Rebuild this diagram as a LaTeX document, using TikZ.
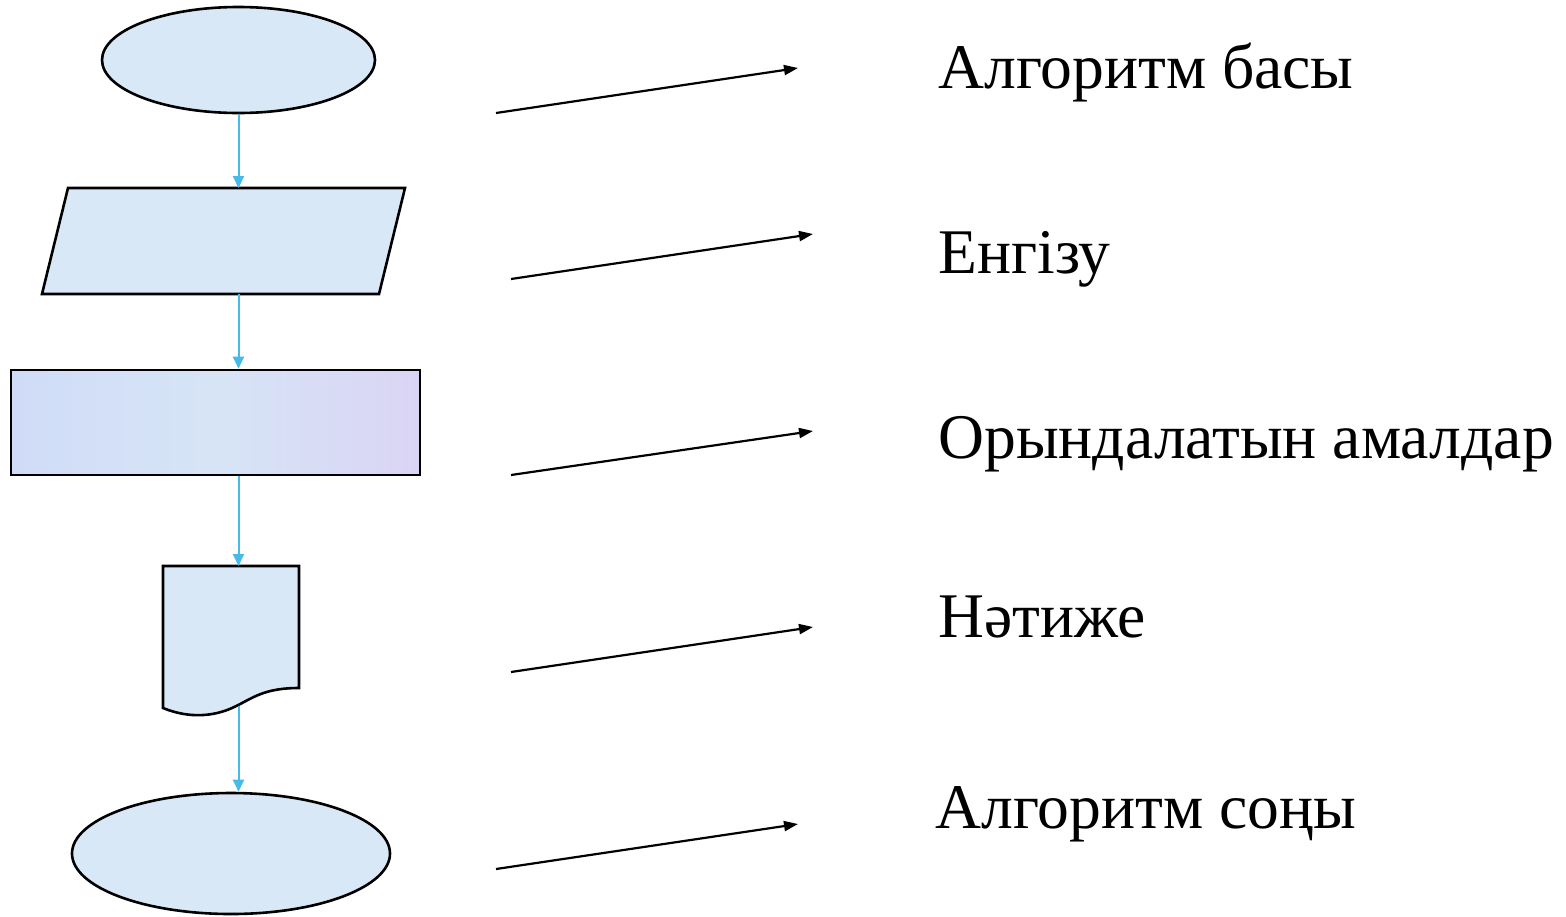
\documentclass[tikz,border=0pt]{standalone}
\usepackage{fontspec}
\setmainfont{Liberation Serif}
\usetikzlibrary{shapes.geometric,arrows.meta,calc}
\definecolor{paleblue}{RGB}{217,232,246}
\definecolor{lavblue}{RGB}{208,220,247}
\definecolor{lavpink}{RGB}{218,212,244}
\definecolor{flowblue}{RGB}{72,186,232}
\tikzset{
  shapeline/.style={draw=black,line width=1.3pt,fill=paleblue},
  termbox/.style={shapeline,ellipse,inner sep=0pt},
  anchorbox/.style={inner sep=0pt,outer sep=0pt,draw=none},
  flow/.style={draw=flowblue,line width=1pt,-{Triangle[length=6pt,width=5.5pt]}},
  pointer/.style={draw=black,line width=1.1pt,-{Triangle[length=7pt,width=5pt]}},
  label/.style={inner sep=0pt,anchor=base west,font=\fontsize{31.8}{35}\selectfont}
}
\begin{document}
\begin{tikzpicture}[x=0.5pt,y=-0.5pt]
\useasboundingbox (0,0) rectangle (1566,916);
% start ellipse
\node[termbox,minimum width=136.5pt,minimum height=53pt] (start) at (238.5,60) {};
% parallelogram (input)
\draw[shapeline] (68,188) -- (405,188) -- (379,294) -- (42,294) -- cycle;
\node[anchorbox,minimum width=168.5pt,minimum height=53pt] (input) at (223.5,241) {};
% process rectangle
\node[shapeline,left color=lavblue,right color=lavpink,middle color=paleblue!70!lavblue,inner sep=0pt,minimum width=204.5pt,minimum height=52.5pt] (proc) at (215.5,422.5) {};
% document shape
\draw[shapeline] (163,566) -- (299,566) -- (299,688)
  .. controls (262,688) and (252,699) .. (232,708)
  .. controls (214,716) and (190,719) .. (163,708) -- cycle;
\node[anchorbox,minimum width=68pt,minimum height=71pt] (doc) at (231,637) {};
\coordinate (docbot) at (238.5,706);
% end ellipse
\node[termbox,minimum width=159pt,minimum height=60.5pt] (stop) at (231,853.5) {};

% flow connectors
\draw[flow] (start.south) -- (start.south |- input.north);
\draw[flow] (start.south |- input.south) -- (start.south |- proc.north);
\draw[flow] (start.south |- proc.south) -- (start.south |- doc.north);
\draw[flow] (docbot) -- (docbot |- stop.north);

% labels
\node[label] (t1) at (938,88) {Алгоритм басы};
\node[label] (t2) at (938,273) {Енгізу};
\node[label] (t3) at (938,458) {Орындалатын амалдар};
\node[label] (t4) at (938,637) {Нәтиже};
\node[label] (t5) at (935,828) {Алгоритм соңы};

% pointer arrows
\coordinate (a1s) at (496,113); \coordinate (a1e) at (798,68);
\coordinate (a2s) at (511,279); \coordinate (a2e) at (813,234);
\coordinate (a3s) at (511,475); \coordinate (a3e) at (813,431);
\coordinate (a4s) at (511,672); \coordinate (a4e) at (813,627);
\coordinate (a5s) at (496,869); \coordinate (a5e) at (798,824);
\draw[pointer] (a1s) -- (a1e);
\draw[pointer] (a2s) -- (a2e);
\draw[pointer] (a3s) -- (a3e);
\draw[pointer] (a4s) -- (a4e);
\draw[pointer] (a5s) -- (a5e);
\end{tikzpicture}
\end{document}
